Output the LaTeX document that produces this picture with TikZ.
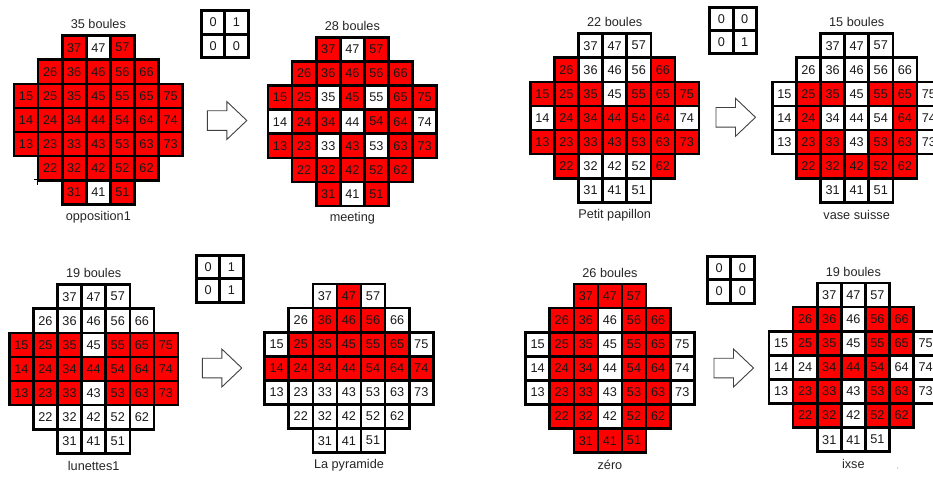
\documentclass[tikz,border=0pt]{standalone}
\usepackage{fontspec}
\setmainfont{Liberation Sans}
\definecolor{boardred}{RGB}{255,0,0}
\def\cs{24.1}
\tikzset{
  cellbox/.style={draw=black, line width=2.6pt, minimum size=\cs pt, inner sep=0pt, text=black!90,
    font=\fontsize{12.7}{15}\selectfont},
  matbox/.style={draw=black, line width=3pt, minimum size=23.3pt, inner sep=0pt, text=black!90,
    font=\fontsize{12.7}{15}\selectfont},
  lbl/.style={inner sep=0pt, text=black!85, font=\fontsize{12.7}{15}\selectfont},
  arrowline/.style={draw=black!75, line width=0.9pt, fill=white, line join=miter}
}
% #1 name, #2 x0, #3 y0, #4 red cells
\newcommand{\solboard}[4]{%
  \foreach \cc in {#4} {%
    \pgfmathtruncatemacro\ci{\cc/10}%
    \pgfmathtruncatemacro\ri{\cc-10*\ci}%
    \fill[boardred] ({#2+(\ci-1)*\cs},{#3+(7-\ri)*\cs}) rectangle ++(\cs,\cs);
  }%
  \foreach \cc in {37,47,57,26,36,46,56,66,15,25,35,45,55,65,75,14,24,34,44,54,64,74,13,23,33,43,53,63,73,22,32,42,52,62,31,41,51} {%
    \pgfmathtruncatemacro\ci{\cc/10}%
    \pgfmathtruncatemacro\ri{\cc-10*\ci}%
    \node[cellbox] (#1-\cc) at ({#2+(\ci-0.5)*\cs},{#3+(7.5-\ri)*\cs}) {\cc};
  }%
}
% #1 name, #2 x0, #3 y0, #4-#7 values
\newcommand{\minimat}[7]{%
  \node[matbox] (#1-a) at ({#2+11.65},{#3+11.65}) {#4};
  \node[matbox] (#1-b) at ({#2+34.95},{#3+11.65}) {#5};
  \node[matbox] (#1-c) at ({#2+11.65},{#3+34.95}) {#6};
  \node[matbox] (#1-d) at ({#2+34.95},{#3+34.95}) {#7};
}
% #1 tail x, #2 centre y
\newcommand{\blockarrow}[2]{%
  \draw[arrowline] (#1,#2-9.8) -- ++(19.5,0) -- ++(0,-9.2) -- ++(20,19) -- ++(-20,19) -- ++(0,-9.2) -- ++(-19.5,0) -- cycle;
}
\begin{document}
\begin{tikzpicture}[x=1pt,y=-1pt]
\useasboundingbox (0,0) rectangle (933,477);
\clip (0,0) rectangle (933,477);
\fill[white] (0,0) rectangle (933,477);

% Board 1
\solboard{b1}{14}{35.6}{37,57,26,36,46,56,66,15,25,35,45,55,65,75,14,24,34,44,54,64,74,13,23,33,43,53,63,73,22,32,42,52,62,31,51}
\node[lbl] (b1-title) at ({14+3.5*\cs},{35.6-11.5}) {35 boules};
\node[lbl] (b1-cap) at ({14+3.5*\cs},{35.6+7*\cs+12.5}) {opposition1};
\draw[black, line width=0.8pt] (33.5,179.5) -- (37.5,179.5) -- (37.5,185);

% Board 2
\solboard{b2}{268}{37.3}{37,57,26,36,46,56,66,15,25,45,65,75,24,34,54,64,13,23,43,63,73,22,32,42,52,62,31,51}
\node[lbl] (b2-title) at ({268+3.5*\cs},{37.3-11.5}) {28 boules};
\node[lbl] (b2-cap) at ({268+3.5*\cs},{37.3+7*\cs+12.5}) {meeting};

% Board 3
\solboard{b3}{530.3}{33.6}{26,66,15,25,35,55,65,75,24,34,44,54,64,13,23,33,43,53,63,73,22,62}
\node[lbl] (b3-title) at ({530.3+3.5*\cs},{33.6-11.5}) {22 boules};
\node[lbl] (b3-cap) at ({530.3+3.5*\cs},{33.6+7*\cs+12.5}) {Petit papillon};

% Board 4
\solboard{b4}{772.3}{33.6}{25,35,55,65,24,64,23,33,53,63,22,32,42,52,62}
\node[lbl] (b4-title) at ({772.3+3.5*\cs},{33.6-11.5}) {15 boules};
\node[lbl] (b4-cap) at ({772.3+3.5*\cs},{33.6+7*\cs+12.5}) {vase suisse};

% Board 5
\solboard{b5}{9.3}{284.6}{15,25,35,55,65,75,14,24,34,44,54,64,74,13,23,33,53,63,73}
\node[lbl] (b5-title) at ({9.3+3.5*\cs},{284.6-11.5}) {19 boules};
\node[lbl] (b5-cap) at ({9.3+3.5*\cs},{284.6+7*\cs+12.5}) {lunettes1};

% Board 6
\solboard{b6}{264.6}{284}{47,36,46,56,25,35,45,55,65,14,24,34,44,54,64,74}
\node[lbl] (b6-cap) at ({264.6+3.5*\cs},{284+7*\cs+12.5}) {La pyramide};

% Board 7
\solboard{b7}{525.6}{284}{37,47,57,26,36,56,66,25,35,55,65,24,34,54,64,23,33,53,63,22,32,52,62,31,41,51}
\node[lbl] (b7-title) at ({525.6+3.5*\cs},{284-11.5}) {26 boules};
\node[lbl] (b7-cap) at ({525.6+3.5*\cs},{284+7*\cs+12.5}) {zéro};

% Board 8
\solboard{b8}{769}{283}{26,36,56,66,25,35,55,65,34,44,54,23,33,53,63,22,32,52,62}
\node[lbl] (b8-title) at ({769+3.5*\cs},{283-11.5}) {19 boules};
\node[lbl] (b8-cap) at ({769+3.5*\cs},{283+7*\cs+12.5}) {ixse};
\fill[orange] (897.7,468) circle (0.6);

% Small matrices
\minimat{m1}{201.5}{10.8}{0}{1}{0}{0}
\minimat{m2}{709.8}{7.2}{0}{0}{0}{1}
\minimat{m3}{196.5}{255.5}{0}{1}{0}{1}
\minimat{m4}{707.5}{256.5}{0}{0}{0}{0}

% Block arrows
\blockarrow{207.3}{120.5}
\blockarrow{716}{117.3}
\blockarrow{202.3}{368}
\blockarrow{714}{368}
\end{tikzpicture}
\end{document}
